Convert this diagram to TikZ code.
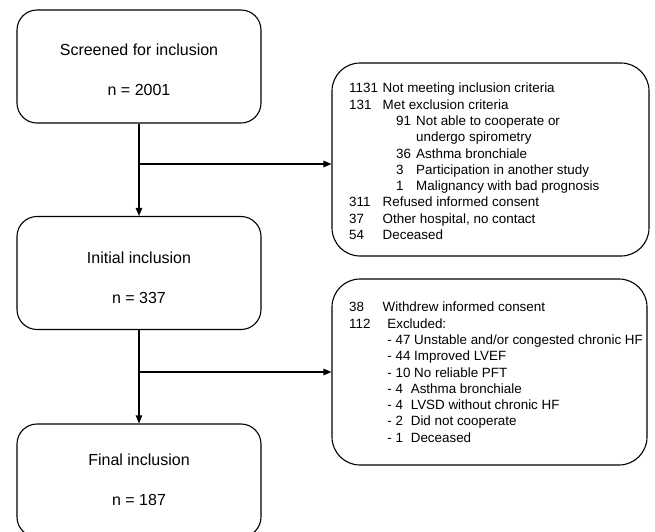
\documentclass[tikz,border=0pt]{standalone}
\usepackage{fontspec}
\setmainfont{Liberation Sans}
\usetikzlibrary{arrows.meta}
\newcommand\fcNum[2]{\makebox[2.5em][l]{#1}#2}
\newcommand\fcSub[2]{\hspace*{3.5em}\makebox[1.5em][l]{#1}#2}
\newcommand\fcDash[2]{\hspace*{2.85em}\makebox[1.75em][l]{#1}#2}
\begin{document}
\begin{tikzpicture}[x=1pt,y=-1pt,
  leftbox/.style={draw=black, line width=1.1pt, rounded corners=20pt,
    minimum width=244pt, minimum height=113pt, inner sep=0pt},
  rightbox/.style={draw=black, line width=1.1pt, rounded corners=28pt, inner sep=0pt},
  ltext/.style={align=center, inner sep=0pt, font=\fontsize{16}{40}\selectfont},
  rtext/.style={inner sep=0pt, font=\fontsize{13.4}{16.3}\selectfont},
  flow/.style={line width=1.1pt, -{Triangle[length=8pt,width=6.5pt]}}
]
\useasboundingbox (0,0) rectangle (655,531);

% left boxes
\node[leftbox] (b1) at (139,66.5) {};
\node[leftbox] (b2) at (139,273) {};
\node[leftbox] (b3) at (139,480.5) {};
\node[ltext] (b1t) at (139,70) {Screened for inclusion\\n = 2001};
\node[ltext] (b2t) at (139,278) {Initial inclusion\\n = 337};
\node[ltext] (b3t) at (139,480) {Final inclusion\\n = 187};

% right boxes
\node[rightbox, minimum width=317pt, minimum height=193pt] (r1) at (490.5,159.5) {};
\node[rightbox, minimum width=315pt, minimum height=186pt] (r2) at (489.5,372) {};

\node[rtext, anchor=base west] (r1t) at (349,92.8) {\begin{tabular}[t]{@{}l@{}}
\fcNum{1131}{Not meeting inclusion criteria}\\
\fcNum{131}{Met exclusion criteria}\\
\fcSub{91}{Not able to cooperate or}\\
\hspace*{5em}undergo spirometry\\
\fcSub{36}{Asthma bronchiale}\\
\fcSub{3}{Participation in another study}\\
\fcSub{1}{Malignancy with bad prognosis}\\
\fcNum{311}{Refused informed consent}\\
\fcNum{37}{Other hospital, no contact}\\
\fcNum{54}{Deceased}
\end{tabular}};

\node[rtext, anchor=base west] (r2t) at (349,311.8) {\begin{tabular}[t]{@{}l@{}}
\fcNum{38}{Withdrew informed consent}\\
\makebox[2.85em][l]{112}Excluded:\\
\hspace*{2.85em}- 47 Unstable and/or congested chronic HF\\
\hspace*{2.85em}- 44 Improved LVEF\\
\hspace*{2.85em}- 10 No reliable PFT\\
\fcDash{- 4}{Asthma bronchiale}\\
\fcDash{- 4}{LVSD without chronic HF}\\
\fcDash{- 2}{Did not cooperate}\\
\fcDash{- 1}{Deceased}
\end{tabular}};

% connectors
\coordinate (j1) at (139,164);
\coordinate (j2) at (139,372);
\draw[flow] (b1.south) -- (b2.north);
\draw[flow] (b2.south) -- (b3.north);
\draw[flow] (j1) -- (j1 -| r1.west);
\draw[flow] (j2) -- (j2 -| r2.west);
\end{tikzpicture}
\end{document}
